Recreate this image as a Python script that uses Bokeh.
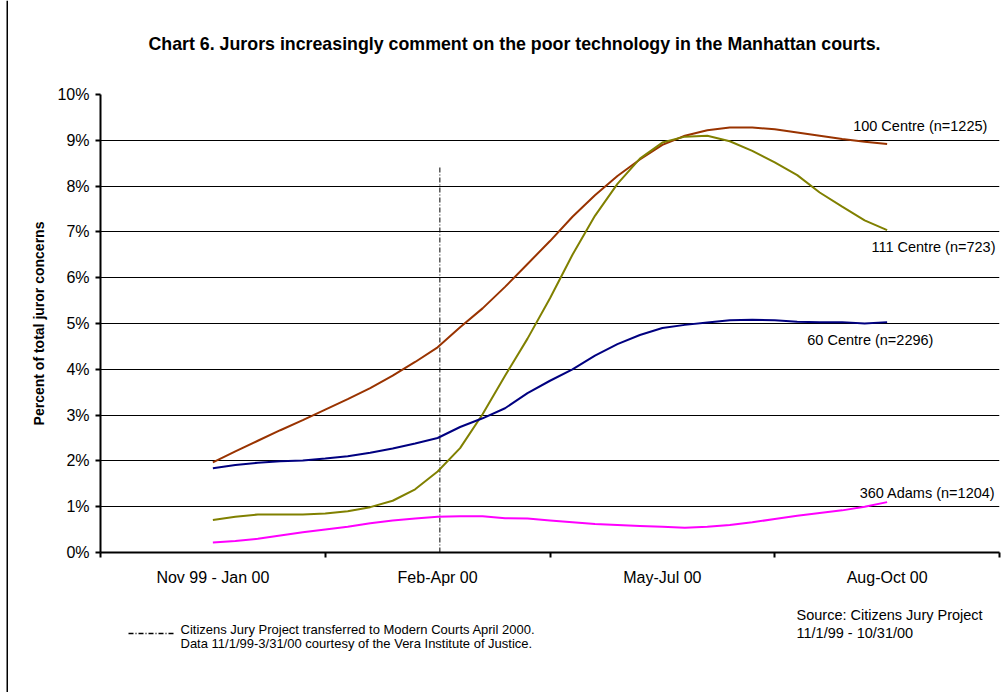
from bokeh.plotting import figure
from bokeh.layouts import row, column
from bokeh.models import FixedTicker, PrintfTickFormatter, Label, Range1d
from bokeh.core.properties import value
from bokeh.embed import file_html
from bokeh.resources import INLINE

# Quarter categories along the x axis (series run from the first to the last quarter)
periods = ["Nov 99 - Jan 00", "Feb-Apr 00", "May-Jul 00", "Aug-Oct 00"]
pct_ticks = list(range(0, 11))

# Rolling positions, in quarter units (0 = Nov 99 - Jan 00, 3 = Aug-Oct 00)
positions = [i / 10 for i in range(31)]

centre_100 = [1.97, 2.21, 2.44, 2.67, 2.89, 3.12, 3.35, 3.59, 3.86, 4.16, 4.48,
              4.92, 5.33, 5.80, 6.30, 6.80, 7.33, 7.80, 8.22, 8.58, 8.90,
              9.10, 9.22, 9.28, 9.28, 9.24, 9.17, 9.10, 9.03, 8.97, 8.92]
centre_111 = [0.71, 0.78, 0.83, 0.83, 0.83, 0.85, 0.90, 0.99, 1.13, 1.38, 1.77,
              2.28, 3.02, 3.86, 4.67, 5.55, 6.50, 7.35, 8.05, 8.60, 8.95,
              9.08, 9.10, 8.98, 8.77, 8.52, 8.24, 7.86, 7.55, 7.25, 7.04]
centre_60 = [1.84, 1.91, 1.96, 1.99, 2.01, 2.05, 2.10, 2.18, 2.27, 2.38, 2.50,
             2.74, 2.93, 3.15, 3.48, 3.75, 4.00, 4.30, 4.55, 4.75, 4.90,
             4.97, 5.02, 5.07, 5.08, 5.07, 5.04, 5.03, 5.03, 5.00, 5.03]
adams_360 = [0.22, 0.25, 0.30, 0.37, 0.44, 0.50, 0.56, 0.64, 0.70, 0.74, 0.78,
             0.79, 0.79, 0.75, 0.74, 0.70, 0.66, 0.62, 0.60, 0.58, 0.56,
             0.54, 0.56, 0.60, 0.66, 0.73, 0.80, 0.86, 0.92, 1.00, 1.10]

series_names = ["100 Centre (n=1225)", "111 Centre (n=723)",
                "60 Centre (n=2296)", "360 Adams (n=1204)"]
series_colors = ["#993300", "#808000", "#000080", "#FF00FF"]

# April 2000: project moved to Modern Courts
transfer_pos = 1.01
transfer_top = 8.45

FONT = "Liberation Sans"
INNER_W = 995
# page x coordinates covered by the (column-aligned) plot frames
FRAME_X = (100, 999)


def blank(width, height, y_range):
    """A figure with no axes, used for free text; x is in page pixels."""
    f = figure(width=width, height=height, output_backend="svg", toolbar_location=None,
               x_range=Range1d(*FRAME_X), y_range=y_range,
               x_axis_location=None, y_axis_location=None,
               min_border=0, min_border_left=92, min_border_right=4,
               min_border_top=0, min_border_bottom=0)
    f.outline_line_color = None
    f.xgrid.visible = False
    f.ygrid.visible = False
    f.background_fill_color = "white"
    f.border_fill_color = "white"
    return f


# ---- title strip
header = blank(INNER_W, 70, Range1d(70, 0))
header.text(x=[514], y=[43], text=["Chart 6. Jurors increasingly comment on the poor technology in the Manhattan courts."],
            text_align="center", text_baseline="middle", text_font=value(FONT),
            text_font_size="17.8px", text_font_style="bold", text_color="black")

# ---- main chart
p = figure(width=INNER_W, height=530, output_backend="svg", toolbar_location=None,
           x_range=Range1d(-0.5, 3.5), y_range=Range1d(0, 10),
           min_border_left=92, min_border_right=4,
           min_border_top=24, min_border_bottom=48)
p.outline_line_color = None
p.background_fill_color = "white"
p.border_fill_color = "white"

# x axis: labels at quarter centres, tick marks at quarter boundaries
p.xaxis.ticker = FixedTicker(ticks=[0, 1, 2, 3],
                             minor_ticks=[-0.5, 0.5, 1.5, 2.5, 3.5])
p.xaxis.major_label_overrides = {i: lab for i, lab in enumerate(periods)}
p.xaxis.major_tick_out = 0
p.xaxis.major_tick_in = 0
p.xaxis.minor_tick_out = 5
p.xaxis.minor_tick_in = 0
p.xaxis.minor_tick_line_width = 2
p.xaxis.minor_tick_line_color = "black"
p.xaxis.axis_line_width = 2
p.xaxis.axis_line_color = "black"
p.xaxis.major_label_standoff = 11
p.xaxis.major_label_text_font = FONT
p.xaxis.major_label_text_font_size = "16px"
p.xaxis.major_label_text_color = "black"

# y axis: whole percentages
p.yaxis.ticker = FixedTicker(ticks=pct_ticks)
p.yaxis.formatter = PrintfTickFormatter(format="%d%%")
p.yaxis.major_tick_out = 5
p.yaxis.major_tick_in = 0
p.yaxis.minor_tick_out = 0
p.yaxis.minor_tick_in = 0
p.yaxis.major_tick_line_width = 2
p.yaxis.major_tick_line_color = "black"
p.yaxis.axis_line_width = 2
p.yaxis.axis_line_color = "black"
p.yaxis.major_label_standoff = 6
p.yaxis.major_label_text_font = FONT
p.yaxis.major_label_text_font_size = "16px"
p.yaxis.major_label_text_color = "black"
p.yaxis.axis_label = "Percent of total juror concerns"
p.yaxis.axis_label_text_font = FONT
p.yaxis.axis_label_text_font_size = "14px"
p.yaxis.axis_label_text_font_style = "bold"
p.yaxis.axis_label_text_color = "black"
p.yaxis.axis_label_standoff = 7

p.xgrid.grid_line_color = None
p.ygrid.grid_line_color = "black"
p.ygrid.grid_line_width = 1

# vertical marker for the April 2000 transfer
p.line([transfer_pos, transfer_pos], [0, transfer_top], line_color="black",
       line_width=1, line_dash="5 2 1 2")

for vals, color in zip([centre_100, centre_111, centre_60, adams_360], series_colors):
    p.line(positions, vals, line_color=color, line_width=2)

# series labels
label_spots = [(3.446, 9.32), (3.482, 6.66), (3.206, 4.65), (3.482, 1.29)]
for name, (lx, ly) in zip(series_names, label_spots):
    p.add_layout(Label(x=lx, y=ly, text=name, text_align="right",
                       text_baseline="middle", text_font=FONT,
                       text_font_size="14.5px", text_color="black"))

# ---- footnotes
foot = blank(INNER_W, 92, Range1d(92, 0))
foot.line(x=[128, 173], y=[33, 33], line_color="black", line_width=1.5, line_dash="5 2 1 2")
foot.text(x=[180, 180], y=[29, 43],
          text=["Citizens Jury Project transferred to Modern Courts April 2000.",
                "Data 11/1/99-3/31/00 courtesy of the Vera Institute of Justice."],
          text_align="left", text_baseline="middle", text_font=value(FONT),
          text_font_size="13px", text_color="black")
foot.text(x=[796, 796], y=[14, 32],
          text=["Source: Citizens Jury Project", "11/1/99 - 10/31/00"],
          text_align="left", text_baseline="middle", text_font=value(FONT),
          text_font_size="14.5px", text_color="black")

# ---- left edge of the chart area
edge = figure(width=8, height=692, output_backend="svg", toolbar_location=None,
              x_range=Range1d(0, 8), y_range=Range1d(692, 0),
              x_axis_location=None, y_axis_location=None,
              min_border=0, min_border_left=0, min_border_right=0,
              min_border_top=0, min_border_bottom=0)
edge.outline_line_color = None
edge.xgrid.visible = False
edge.ygrid.visible = False
edge.line(x=[7, 7], y=[0, 692], line_color="black", line_width=2)

layout = row(edge, column(header, p, foot))
open("out.html", "w").write(file_html(layout, INLINE))
